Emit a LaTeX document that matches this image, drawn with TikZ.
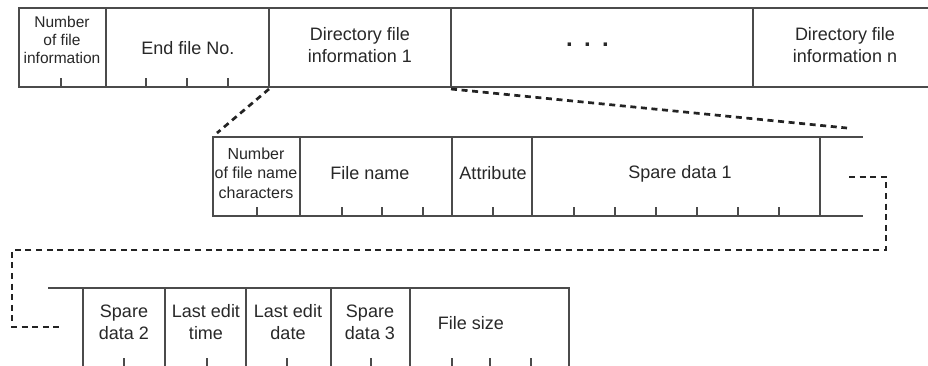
\documentclass[tikz,border=0pt]{standalone}
\usepackage{fontspec}
\setmainfont{Liberation Sans}
\definecolor{linec}{RGB}{75,75,75}
\definecolor{txtc}{RGB}{40,40,40}
\definecolor{dashc}{RGB}{35,35,35}
\begin{document}
\begin{tikzpicture}[x=1pt,y=-1pt,
  frame/.style={draw=linec, line width=1.3pt},
  cell/.style={frame, inner sep=0pt, outer sep=0pt, anchor=north west, minimum height=79pt},
  tickline/.style={draw=linec, line width=1.2pt},
  lbl/.style={text=txtc, font=\fontsize{18}{22}\selectfont, align=center, inner sep=0pt},
  lbls/.style={lbl, font=\fontsize{15.5}{18}\selectfont},
  lblm/.style={lbl, font=\fontsize{16}{19.5}\selectfont},
  dashline/.style={draw=dashc, line width=2.7pt, dash pattern=on 6pt off 4.6pt}
]
\clip (0,0) rectangle (928,365);
\fill[white] (0,0) rectangle (928,365);

% Row 1
\node[cell, minimum width=87pt]  (r1a) at (19,8) {};
\node[cell, minimum width=163pt] (r1b) at (106,8) {};
\node[cell, minimum width=182pt] (r1c) at (269,8) {};
\node[cell, minimum width=302pt] (r1d) at (451,8) {};
\coordinate (r1eN) at (930,8);
\coordinate (r1eS) at (930,87);
\draw[frame] (r1d.north east) -- (r1eN);
\draw[frame] (r1d.south east) -- (r1eS);
\foreach \x in {61,146,187,228} \draw[tickline] (\x,87) -- (\x,78);

\node[lbls] (t1a) at (62,40) {Number\\of file\\information};
\node[lbl] (t1b) at (188,48) {End file No.};
\node[lbl] (t1c) at (360,45) {Directory file\\information 1};
\node[lbl, font=\fontsize{24}{26}\selectfont\bfseries] (t1d) at (587.5,45) {.\hspace{11.3pt}.\hspace{11.3pt}.};
\node[lbl] (t1e) at (845,45) {Directory file\\information n};

% Row 2
\node[cell, minimum width=87pt]  (r2a) at (213,137) {};
\node[cell, minimum width=152pt] (r2b) at (300,137) {};
\node[cell, minimum width=80pt]  (r2c) at (452,137) {};
\node[cell, minimum width=288pt] (r2d) at (532,137) {};
\coordinate (r2eN) at (863,137);
\coordinate (r2eS) at (863,216);
\draw[frame] (r2d.north east) -- (r2eN);
\draw[frame] (r2d.south east) -- (r2eS);
\foreach \x in {257,342,382,423,493,574,615,656,697,738,779} \draw[tickline] (\x,216) -- (\x,207);

\node[lblm] (t2a) at (256,173) {Number\\of file name\\characters};
\node[lbl] (t2b) at (370,173) {File name};
\node[lbl] (t2c) at (493,173) {Attribute};
\node[lbl] (t2d) at (680,174) {Spare data 1};

% Row 3
\coordinate (r3oN) at (48,288);
\coordinate (r3oS) at (48,367);
\node[cell, minimum width=82pt]  (r3a) at (83,288) {};
\node[cell, minimum width=81pt]  (r3b) at (165,288) {};
\node[cell, minimum width=85pt]  (r3c) at (246,288) {};
\node[cell, minimum width=79pt]  (r3d) at (331,288) {};
\node[cell, minimum width=159pt] (r3e) at (410,288) {};
\draw[frame] (r3oN) -- (r3a.north west);
\draw[frame] (r3oS) -- (r3a.south west);
\foreach \x in {124,207,287,371,452,490,531} \draw[tickline] (\x,367) -- (\x,358);

\node[lbl] (t3a) at (124,322) {Spare\\data 2};
\node[lbl] (t3b) at (206,322) {Last edit\\time};
\node[lbl] (t3c) at (288,322) {Last edit\\date};
\node[lbl] (t3d) at (370,322) {Spare\\data 3};
\node[lbl] (t3e) at (471,323) {File size};

% Dashed connectors
\coordinate (d1s) at (269,89);
\coordinate (d1e) at (217,133);
\draw[dashline] (d1s) -- (d1e);
\coordinate (d2s) at (451,89);
\coordinate (d2e) at (847,128);
\draw[dashline] (d2s) -- (d2e);
\coordinate (d3s) at (849,177);
\coordinate (d3e) at (63,327);
\draw[dashline] (d3s) -- (886,177) -- (886,250) -- (12,250) -- (12,327) -- (d3e);
\end{tikzpicture}
\end{document}
